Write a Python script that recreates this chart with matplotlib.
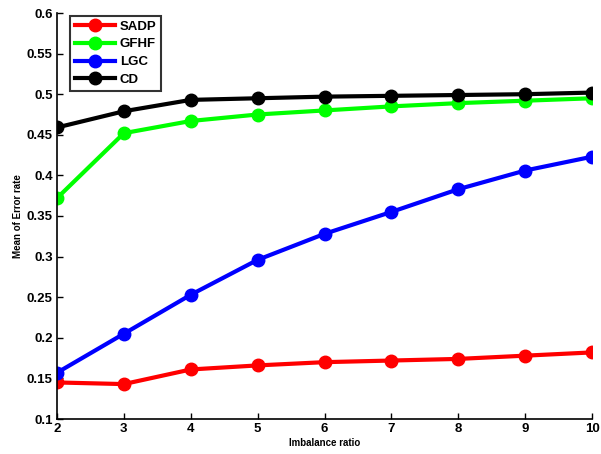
import matplotlib
matplotlib.use("Agg")
import matplotlib.pyplot as plt

# imbalance ratios on the x axis
ratios = [2, 3, 4, 5, 6, 7, 8, 9, 10]

# mean error rate per method
sadp = [0.145, 0.143, 0.161, 0.166, 0.170, 0.172, 0.174, 0.178, 0.182]
gfhf = [0.372, 0.452, 0.467, 0.475, 0.480, 0.485, 0.489, 0.492, 0.495]
lgc = [0.157, 0.205, 0.253, 0.296, 0.328, 0.355, 0.383, 0.406, 0.423]
cd = [0.459, 0.479, 0.493, 0.495, 0.497, 0.498, 0.499, 0.500, 0.502]

y_ticks = [0.1, 0.15, 0.2, 0.25, 0.3, 0.35, 0.4, 0.45, 0.5, 0.55, 0.6]
y_tick_labels = ["0.1", "0.15", "0.2", "0.25", "0.3", "0.35", "0.4", "0.45", "0.5", "0.55", "0.6"]

plt.rcParams['font.family'] = ['Liberation Sans', 'DejaVu Sans']

fig = plt.figure(figsize=(6.01, 4.54), dpi=100)
ax = fig.add_axes([57 / 601, 1 - 419 / 454, (592 - 57) / 601, (419 - 13) / 454])

style = dict(linewidth=3, marker='o', markersize=9)
ax.plot(ratios, sadp, color='#ff0000', label='SADP', **style)
ax.plot(ratios, gfhf, color='#00ff00', label='GFHF', **style)
ax.plot(ratios, lgc, color='#0000ff', label='LGC', **style)
ax.plot(ratios, cd, color='#000000', label='CD', **style)

ax.set_xlim(2, 10)
ax.set_ylim(0.1, 0.6)
ax.set_xticks(ratios)
ax.set_yticks(y_ticks)
ax.set_yticklabels(y_tick_labels)
ax.tick_params(direction='in', labelsize=9.5, length=4, width=1, pad=3)
for lbl in ax.get_xticklabels() + ax.get_yticklabels():
    lbl.set_fontweight('bold')

ax.spines['top'].set_visible(False)
ax.spines['right'].set_visible(False)
ax.spines['left'].set_linewidth(1.2)
ax.spines['bottom'].set_linewidth(1.2)

ax.set_xlabel('Imbalance ratio', fontsize=7, fontweight='bold', labelpad=2)
ax.set_ylabel('Mean of Error rate', fontsize=7, fontweight='bold', labelpad=3)

leg = ax.legend(loc='upper left', bbox_to_anchor=(0.025, 0.993),
                prop={'weight': 'bold', 'size': 9.5}, frameon=True, fancybox=False,
                borderpad=0.35, labelspacing=0.42, handlelength=3.0, handletextpad=0.4,
                borderaxespad=0.0)
leg.get_frame().set_edgecolor('black')
leg.get_frame().set_linewidth(1.5)

fig.savefig('out.png', dpi=100)
